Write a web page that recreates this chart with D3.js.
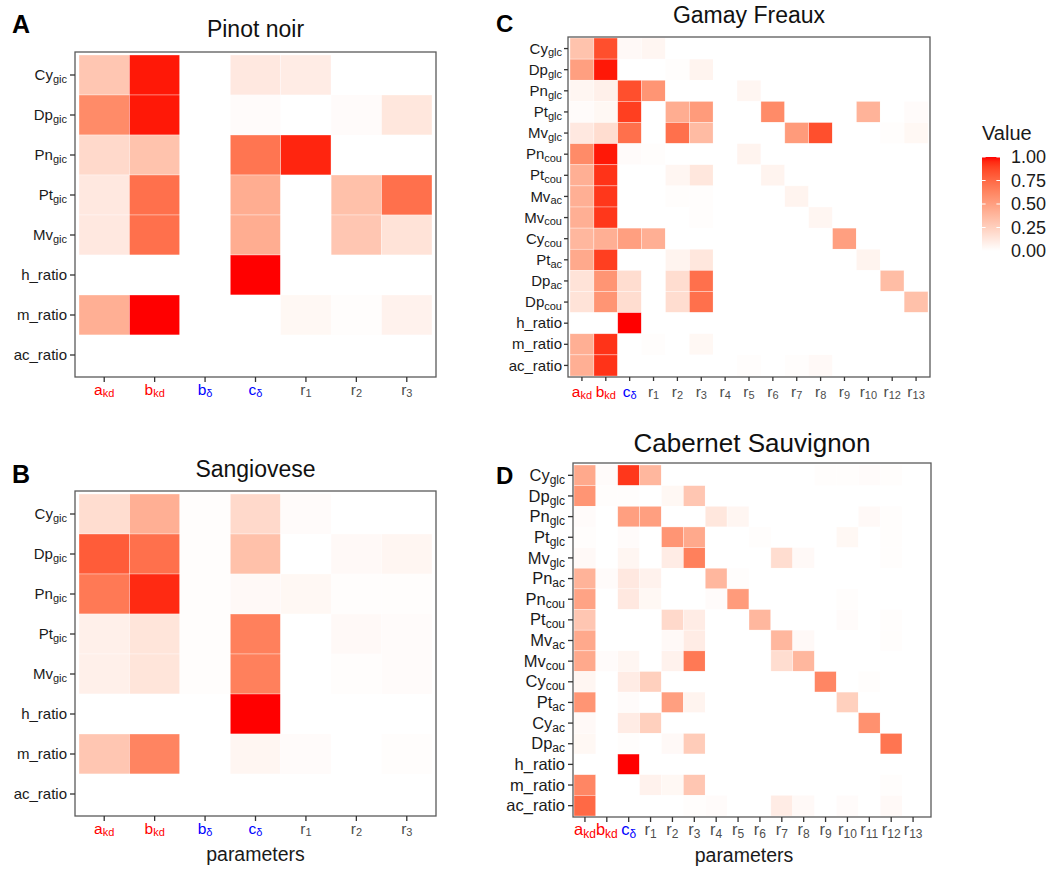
<!DOCTYPE html>
<html><head><meta charset="utf-8">
<script src="https://cdn.jsdelivr.net/npm/d3@7"></script>
<style>body{margin:0;background:#fff}svg{display:block}</style>
</head><body>
<svg id="chart" width="1053" height="869"></svg>
<script>
// ---------- DATA ----------
const pinotRows = ["Cy_gic","Dp_gic","Pn_gic","Pt_gic","Mv_gic","h_ratio","m_ratio","ac_ratio"];
const pinotCols = ["a_kd","b_kd","b_δ","c_δ","r_1","r_2","r_3"];
const pinotValues = [
  [0.30,0.98,0.00,0.12,0.10,0.00,0.00],
  [0.60,0.98,0.00,0.02,0.00,0.02,0.13],
  [0.20,0.32,0.00,0.70,0.96,0.00,0.00],
  [0.12,0.72,0.00,0.43,0.00,0.33,0.72],
  [0.12,0.72,0.00,0.43,0.00,0.30,0.15],
  [0.00,0.00,0.00,1.00,0.00,0.00,0.00],
  [0.42,1.00,0.00,0.00,0.04,0.01,0.07],
  [0.00,0.00,0.00,0.00,0.00,0.00,0.00]
];

const sangioveseRows = ["Cy_gic","Dp_gic","Pn_gic","Pt_gic","Mv_gic","h_ratio","m_ratio","ac_ratio"];
const sangioveseCols = ["a_kd","b_kd","b_δ","c_δ","r_1","r_2","r_3"];
const sangioveseValues = [
  [0.18,0.42,0.01,0.20,0.02,0.00,0.00],
  [0.80,0.72,0.01,0.33,0.00,0.03,0.05],
  [0.68,0.95,0.01,0.03,0.04,0.01,0.01],
  [0.08,0.14,0.01,0.65,0.00,0.03,0.02],
  [0.08,0.14,0.01,0.65,0.00,0.01,0.02],
  [0.00,0.00,0.00,1.00,0.00,0.00,0.00],
  [0.30,0.63,0.00,0.05,0.02,0.00,0.01],
  [0.00,0.00,0.00,0.00,0.00,0.00,0.00]
];

const gamayRows = ["Cy_glc","Dp_glc","Pn_glc","Pt_glc","Mv_glc","Pn_cou","Pt_cou","Mv_ac","Mv_cou","Cy_cou","Pt_ac","Dp_ac","Dp_cou","h_ratio","m_ratio","ac_ratio"];
const gamayCols = ["a_kd","b_kd","c_δ","r_1","r_2","r_3","r_4","r_5","r_6","r_7","r_8","r_9","r_10","r_12","r_13"];
const gamayValues = [
  [0.32,0.85,0.03,0.05,0.00,0.00,0,0.00,0.00,0.00,0.00,0.00,0.00,0.00,0.00],
  [0.50,0.98,0.00,0.00,0.01,0.06,0,0.00,0.00,0.00,0.00,0.00,0.00,0.00,0.00],
  [0.05,0.08,0.85,0.55,0.00,0.00,0,0.05,0.00,0.00,0.00,0.00,0.00,0.00,0.00],
  [0.02,0.04,0.90,0.00,0.43,0.52,0,0.00,0.60,0.00,0.00,0.00,0.40,0.00,0.02],
  [0.12,0.18,0.72,0.00,0.72,0.36,0,0.00,0.00,0.52,0.85,0.00,0.00,0.01,0.04],
  [0.60,0.98,0.02,0.01,0.00,0.00,0,0.06,0.00,0.00,0.00,0.00,0.00,0.00,0.00],
  [0.42,0.93,0.00,0.00,0.05,0.13,0,0.00,0.06,0.00,0.00,0.00,0.00,0.00,0.00],
  [0.42,0.92,0.00,0.00,0.01,0.01,0,0.00,0.00,0.06,0.00,0.00,0.00,0.00,0.00],
  [0.42,0.92,0.00,0.00,0.00,0.01,0,0.00,0.00,0.00,0.05,0.00,0.00,0.00,0.00],
  [0.38,0.42,0.50,0.42,0.00,0.00,0,0.00,0.00,0.00,0.00,0.50,0.00,0.00,0.00],
  [0.45,0.90,0.00,0.00,0.06,0.13,0,0.00,0.00,0.00,0.00,0.00,0.06,0.00,0.00],
  [0.15,0.55,0.18,0.00,0.18,0.72,0,0.00,0.00,0.00,0.00,0.00,0.00,0.35,0.00],
  [0.15,0.55,0.18,0.00,0.18,0.72,0,0.00,0.00,0.00,0.00,0.00,0.00,0.00,0.33],
  [0.00,0.00,1.00,0.00,0.00,0.00,0,0.00,0.00,0.00,0.00,0.00,0.00,0.00,0.00],
  [0.42,0.93,0.00,0.01,0.00,0.04,0,0.00,0.00,0.00,0.00,0.00,0.00,0.00,0.00],
  [0.42,0.93,0.00,0.00,0.00,0.00,0,0.01,0.00,0.01,0.03,0.00,0.00,0.00,0.00]
];

const cabernetRows = ["Cy_glc","Dp_glc","Pn_glc","Pt_glc","Mv_glc","Pn_ac","Pn_cou","Pt_cou","Mv_ac","Mv_cou","Cy_cou","Pt_ac","Cy_ac","Dp_ac","h_ratio","m_ratio","ac_ratio"];
const cabernetCols = ["a_kd","b_kd","c_δ","r_1","r_2","r_3","r_4","r_5","r_6","r_7","r_8","r_9","r_10","r_11","r_12","r_13"];
const cabernetValues = [
  [0.45,0.02,0.92,0.38,0.00,0.00,0.00,0.00,0.00,0.00,0.00,0.01,0.01,0.02,0.01,0.00],
  [0.55,0.01,0.01,0.00,0.04,0.30,0.00,0.00,0.00,0.00,0.00,0.00,0.00,0.00,0.00,0.00],
  [0.02,0.00,0.50,0.50,0.00,0.00,0.13,0.05,0.00,0.00,0.00,0.00,0.00,0.03,0.01,0.00],
  [0.01,0.00,0.02,0.00,0.55,0.45,0.00,0.00,0.01,0.00,0.00,0.00,0.04,0.00,0.01,0.00],
  [0.03,0.00,0.05,0.00,0.10,0.65,0.00,0.00,0.00,0.18,0.03,0.00,0.00,0.00,0.01,0.00],
  [0.40,0.02,0.12,0.07,0.00,0.00,0.38,0.01,0.00,0.00,0.00,0.00,0.00,0.00,0.00,0.00],
  [0.48,0.00,0.12,0.04,0.00,0.00,0.02,0.52,0.00,0.00,0.00,0.00,0.01,0.00,0.00,0.00],
  [0.30,0.00,0.00,0.00,0.20,0.10,0.00,0.00,0.38,0.00,0.00,0.00,0.02,0.00,0.01,0.00],
  [0.45,0.00,0.00,0.00,0.03,0.10,0.00,0.00,0.00,0.38,0.03,0.00,0.00,0.00,0.01,0.00],
  [0.45,0.02,0.05,0.00,0.07,0.68,0.00,0.00,0.00,0.18,0.38,0.00,0.00,0.00,0.00,0.00],
  [0.05,0.00,0.10,0.25,0.00,0.00,0.00,0.00,0.00,0.00,0.00,0.62,0.00,0.01,0.00,0.00],
  [0.55,0.00,0.02,0.00,0.50,0.06,0.00,0.00,0.00,0.00,0.00,0.00,0.25,0.00,0.00,0.00],
  [0.03,0.00,0.10,0.25,0.00,0.00,0.00,0.00,0.00,0.00,0.00,0.00,0.00,0.57,0.00,0.00],
  [0.04,0.00,0.01,0.00,0.03,0.27,0.00,0.00,0.00,0.00,0.00,0.00,0.00,0.00,0.70,0.00],
  [0.00,0.00,1.00,0.00,0.00,0.00,0.00,0.00,0.00,0.00,0.00,0.00,0.00,0.00,0.00,0.00],
  [0.62,0.00,0.00,0.07,0.04,0.30,0.00,0.00,0.00,0.00,0.00,0.00,0.00,0.00,0.01,0.00],
  [0.75,0.00,0.00,0.00,0.00,0.01,0.02,0.00,0.00,0.10,0.03,0.00,0.02,0.00,0.03,0.00]
];

const legendTicks = [0, 0.25, 0.5, 0.75, 1];

// ---------- DRAWING ----------
const FONT = "'Liberation Sans', Arial, Helvetica, sans-serif";
const svg = d3.select("#chart").style("font-family", FONT);
const color = d3.scaleLinear().domain([0, 1]).range(["#ffffff", "#ff0000"]).interpolate(d3.interpolateLab);

function splitLabel(s) {
  if (s.endsWith("_ratio")) return [s, ""];
  const i = s.indexOf("_");
  return i < 0 ? [s, ""] : [s.slice(0, i), s.slice(i + 1)];
}
function colLabelColor(s) {
  if (s.endsWith("_kd")) return "#ff0000";
  if (s.endsWith("_δ")) return "#0000ff";
  return "#4d4d4d";
}

function panel(cfg) {
  const g = svg.append("g");
  const x = d3.scaleBand().domain(cfg.cols).range(cfg.tx).padding(0);
  const y = d3.scaleBand().domain(cfg.rows).range(cfg.ty).padding(0);
  const cells = [];
  cfg.values.forEach((row, i) => row.forEach((v, j) => cells.push({r: cfg.rows[i], c: cfg.cols[j], v})));
  g.selectAll("rect.cell").data(cells).join("rect")
    .attr("class", "cell")
    .attr("x", d => x(d.c)).attr("y", d => y(d.r))
    .attr("width", x.bandwidth()).attr("height", y.bandwidth())
    .attr("fill", d => color(d.v))
    .attr("stroke", "#ffffff").attr("stroke-width", 0.6).attr("stroke-opacity", 0.55);

  const [bx0, by0, bx1, by1] = cfg.border;
  g.append("rect").attr("x", bx0).attr("y", by0).attr("width", bx1 - bx0).attr("height", by1 - by0)
    .attr("fill", "none").attr("stroke", "#5a5a5a").attr("stroke-width", 1.3);

  // Y axis
  const ya = g.append("g").attr("transform", `translate(${bx0},0)`)
    .call(d3.axisLeft(y).tickSize(cfg.tick).tickPadding(cfg.ypad));
  ya.select(".domain").remove();
  ya.selectAll(".tick line").attr("stroke", "#333").attr("stroke-width", 1.3);
  ya.selectAll(".tick text").each(function(d) {
    const t = d3.select(this).text(null).attr("fill", "#1a1a1a")
      .attr("font-size", cfg.yfs).attr("font-family", FONT).attr("dy", "0.34em");
    const [m, s] = splitLabel(d);
    t.append("tspan").text(m);
    if (s) t.append("tspan").attr("font-size", cfg.ysub).attr("dy", "0.25em").text(s);
  });

  // X axis
  const xa = g.append("g").attr("transform", `translate(0,${by1})`)
    .call(d3.axisBottom(x).tickSize(cfg.tick).tickPadding(3));
  xa.select(".domain").remove();
  xa.selectAll(".tick line").attr("stroke", "#333").attr("stroke-width", 1.3);
  xa.selectAll(".tick text").each(function(d) {
    const t = d3.select(this).text(null).attr("fill", colLabelColor(d))
      .attr("font-size", cfg.xfs).attr("font-family", FONT)
      .attr("y", cfg.xbase - by1).attr("dy", 0);
    const [m, s] = splitLabel(d);
    t.append("tspan").text(m);
    if (s) t.append("tspan").attr("font-size", cfg.xsub).attr("dy", "0.22em").text(s);
  });

  // Title
  g.append("text").attr("x", cfg.titleX).attr("y", cfg.titleY).attr("text-anchor", "middle")
    .attr("font-size", cfg.titleFs).attr("fill", "#111").text(cfg.title);
  // Letter
  g.append("text").attr("x", cfg.letterX).attr("y", cfg.letterY)
    .attr("font-size", cfg.letterFs).attr("font-weight", "bold").attr("fill", "#000").text(cfg.letter);
  if (cfg.xtitle) {
    g.append("text").attr("x", cfg.xtitleX).attr("y", cfg.xtitleY).attr("text-anchor", "middle")
      .attr("font-size", 19.5).attr("fill", "#1a1a1a").text(cfg.xtitle);
  }
}

panel({rows: pinotRows, cols: pinotCols, values: pinotValues,
  tx: [79, 432], ty: [55, 375], border: [75, 52, 436, 377], tick: 5, ypad: 3,
  yfs: 15, ysub: 11, xfs: 15.5, xsub: 11, xbase: 395,
  title: "Pinot noir", titleX: 255.5, titleY: 37, titleFs: 23,
  letter: "A", letterX: 12, letterY: 33, letterFs: 25});

panel({rows: sangioveseRows, cols: sangioveseCols, values: sangioveseValues,
  tx: [79, 432], ty: [494, 814], border: [75, 491, 436, 816], tick: 5, ypad: 3,
  yfs: 15, ysub: 11, xfs: 15.5, xsub: 11, xbase: 834,
  title: "Sangiovese", titleX: 255.5, titleY: 477, titleFs: 23,
  letter: "B", letterX: 12, letterY: 483, letterFs: 25,
  xtitle: "parameters", xtitleX: 255.5, xtitleY: 861});

panel({rows: gamayRows, cols: gamayCols, values: gamayValues,
  tx: [570, 928], ty: [38, 376], border: [568, 37, 930, 377], tick: 4, ypad: 2,
  yfs: 15, ysub: 11, xfs: 15.5, xsub: 11, xbase: 397,
  title: "Gamay Freaux", titleX: 749, titleY: 23, titleFs: 23,
  letter: "C", letterX: 496, letterY: 32, letterFs: 24});

panel({rows: cabernetRows, cols: cabernetCols, values: cabernetValues,
  tx: [574, 924], ty: [465, 816], border: [573, 463, 931, 817], tick: 5, ypad: 3,
  yfs: 16.5, ysub: 12, xfs: 16.5, xsub: 12, xbase: 835,
  title: "Cabernet Sauvignon", titleX: 752, titleY: 452, titleFs: 26,
  letter: "D", letterX: 496, letterY: 484, letterFs: 24,
  xtitle: "parameters", xtitleX: 744, xtitleY: 862});

// Legend
const lg = svg.append("g");
const ly = d3.scaleLinear().domain([0, 1]).range([251, 157]);
const defs = svg.append("defs");
const grad = defs.append("linearGradient").attr("id", "lgrad").attr("x1", 0).attr("y1", 1).attr("x2", 0).attr("y2", 0);
d3.range(0, 1.0001, 0.05).forEach(t => grad.append("stop").attr("offset", t).attr("stop-color", color(t)));
lg.append("text").attr("x", 982).attr("y", 140).attr("font-size", 20).attr("fill", "#1a1a1a").text("Value");
lg.append("rect").attr("x", 982).attr("y", ly(1)).attr("width", 18).attr("height", ly(0) - ly(1)).attr("fill", "url(#lgrad)");
const la = lg.append("g").attr("transform", "translate(1000,0)")
  .call(d3.axisRight(ly).tickValues(legendTicks).tickFormat(d3.format(".2f")).tickSize(0).tickPadding(11));
la.select(".domain").remove();
la.selectAll(".tick text").attr("font-size", 18).attr("font-family", FONT).attr("fill", "#1a1a1a");
lg.selectAll("line.lt").data(legendTicks.flatMap(v => [[982, v], [996.4, v]])).join("line")
  .attr("class", "lt").attr("x1", d => d[0]).attr("x2", d => d[0] + 3.6)
  .attr("y1", d => ly(d[1])).attr("y2", d => ly(d[1])).attr("stroke", "#fff").attr("stroke-width", 1);
</script>
</body></html>
